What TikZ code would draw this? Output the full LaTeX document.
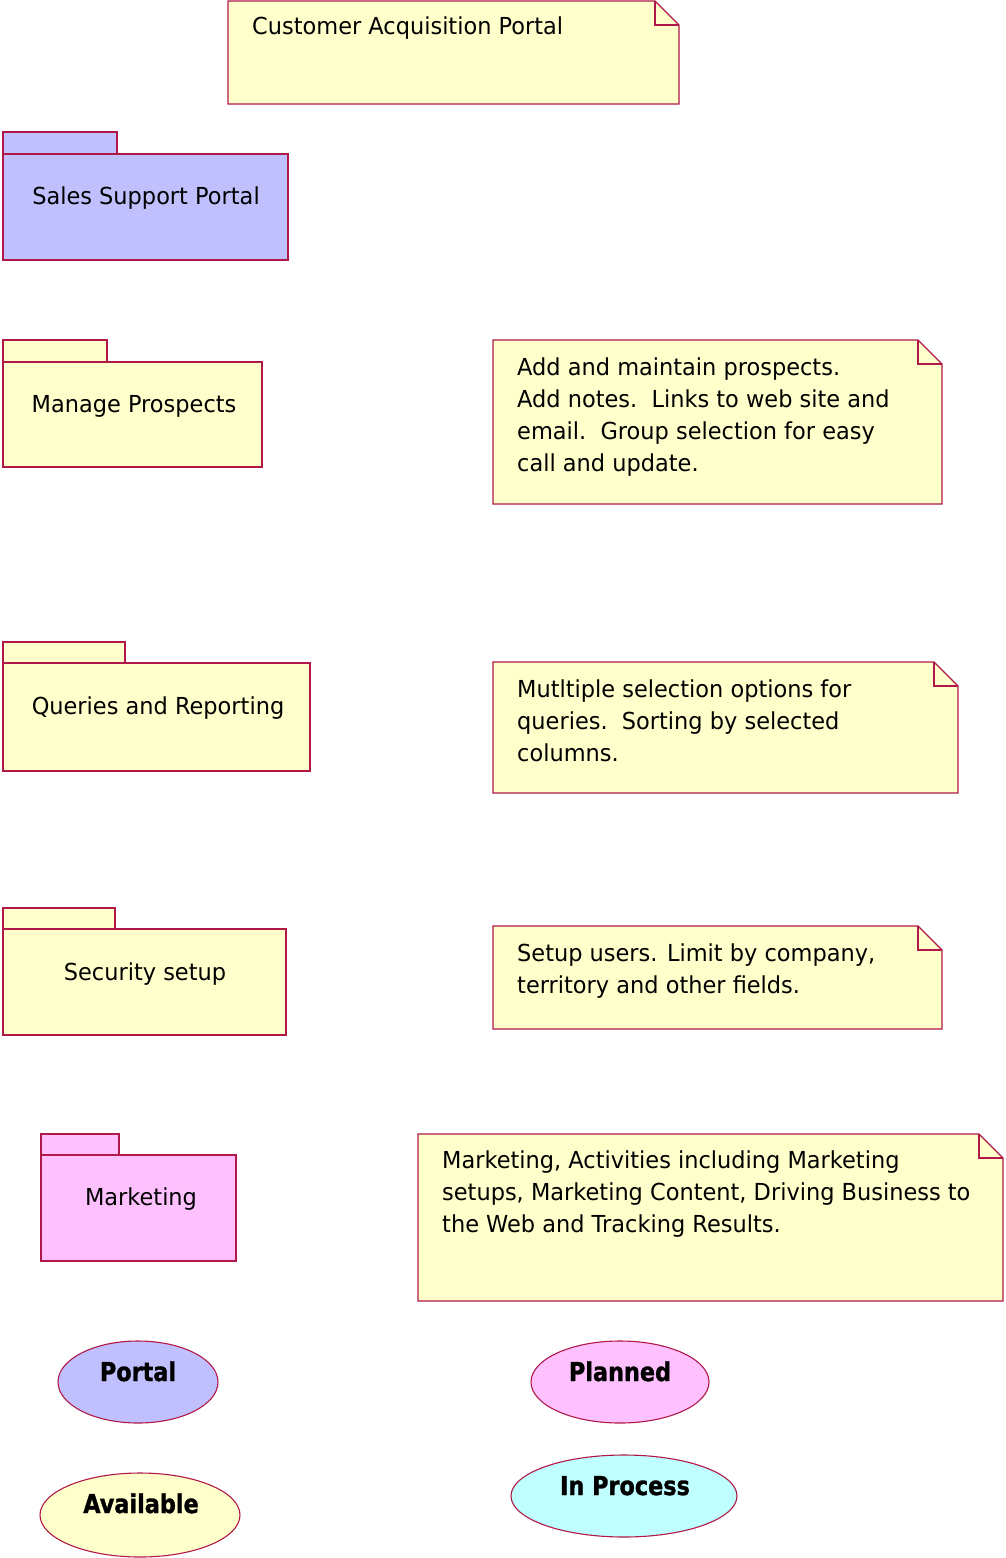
\documentclass[tikz,border=0pt]{standalone}
\usepackage{fontspec}
\setmainfont{DejaVu Sans}[FakeStretch=0.96]
\newfontfamily\lblfont{DejaVu Sans Bold}[FakeStretch=0.86,FakeBold=1.2]
\newcommand\firststrut{\rule{0pt}{20pt}}
\definecolor{edge}{RGB}{176,24,72}
\definecolor{ylw}{RGB}{255,255,204}
\definecolor{blu}{RGB}{192,192,255}
\definecolor{pnk}{RGB}{255,192,255}
\definecolor{cyn}{RGB}{192,255,255}
\tikzset{
  shapeline/.style={draw=edge, line width=1.1pt, line join=miter},
  notetext/.style={anchor=north west, inner sep=0pt, align=left, font=\fontsize{23.4}{32}\selectfont},
  pkgtext/.style={anchor=base, inner sep=0pt, font=\fontsize{23.4}{32}\selectfont},
  lbltext/.style={anchor=base, inner sep=0pt, font=\lblfont\fontsize{26}{30}\selectfont},
}
\newcommand\notebox[5]{% x1,y1,x2,y2,fill
  \path[shapeline, fill=#5] (#1,#2) -- ({#3-24},#2) -- (#3,{#2+24}) -- (#3,#4) -- (#1,#4) -- cycle;
  \draw[shapeline] ({#3-24},#2) -- ({#3-24},{#2+24}) -- (#3,{#2+24});
}
\newcommand\pkgbox[6]{% x1, tabx2, taby1, bodyy1, x2, y2 ; fill via \pkgfill
  \path[shapeline, fill=\pkgfill] (#1,#3) rectangle (#2,#4);
  \path[shapeline, fill=\pkgfill] (#1,#4) rectangle (#5,#6);
}
\begin{document}
\begin{tikzpicture}[x=1pt,y=-1pt]
\useasboundingbox (0,0) rectangle (1005,1558);

% Note 1
\notebox{228}{1}{679}{104}{ylw}
\node[notetext] (n1) at (252,14) {\firststrut Customer Acquisition Portal};

% Sales Support Portal
\def\pkgfill{blu}
\pkgbox{3}{117}{132}{154}{288}{260}
\node[pkgtext] (p1) at (146,204) {Sales Support Portal};

% Manage Prospects
\def\pkgfill{ylw}
\pkgbox{3}{107}{340}{362}{262}{467}
\node[pkgtext] (p2) at (134,412) {Manage Prospects};

% Note 2
\notebox{493}{340}{942}{504}{ylw}
\node[notetext] (n2) at (517,355) {\firststrut Add and maintain prospects.\\
Add notes.\ \ Links to web site and\\
email.\ \ Group selection for easy\\
call and update.};

% Queries and Reporting
\pkgbox{3}{125}{642}{663}{310}{771}
\node[pkgtext] (p3) at (158,714) {Queries and Reporting};

% Note 3
\notebox{493}{662}{958}{793}{ylw}
\node[notetext] (n3) at (517,677) {\firststrut Mutltiple selection options for\\
queries.\ \ Sorting by selected\\
columns.};

% Security setup
\pkgbox{3}{115}{908}{929}{286}{1035}
\node[pkgtext] (p4) at (145,980) {Security setup};

% Note 4
\notebox{493}{926}{942}{1029}{ylw}
\node[notetext] (n4) at (517,941) {\firststrut Setup users. Limit by company,\\
territory and other fields.};

% Marketing
\def\pkgfill{pnk}
\pkgbox{41}{119}{1134}{1155}{236}{1261}
\node[pkgtext] (p5) at (141,1205) {Marketing};

% Note 5
\notebox{418}{1134}{1003}{1301}{ylw}
\node[notetext] (n5) at (442,1148) {\firststrut Marketing, Activities including Marketing\\
setups, Marketing Content, Driving Business to\\
the Web and Tracking Results.};

% Legend ellipses
\path[shapeline, fill=blu] (138,1382) ellipse [x radius=80, y radius=41];
\node[lbltext] (l1) at (138,1381) {Portal};
\path[shapeline, fill=pnk] (620,1382) ellipse [x radius=89, y radius=41];
\node[lbltext] (l2) at (620,1381) {Planned};
\path[shapeline, fill=ylw] (140,1515) ellipse [x radius=100, y radius=42];
\node[lbltext] (l3) at (141,1513) {Available};
\path[shapeline, fill=cyn] (624,1496) ellipse [x radius=113, y radius=41];
\node[lbltext] (l4) at (625,1495) {In Process};
\end{tikzpicture}
\end{document}
